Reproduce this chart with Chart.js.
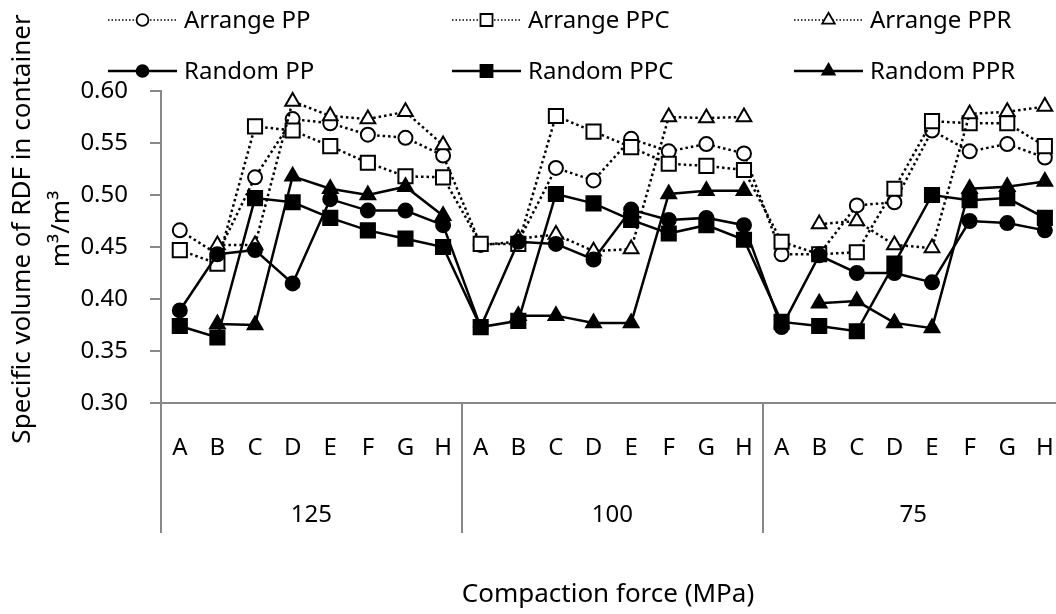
<!DOCTYPE html>
<html>
<head>
<meta charset="utf-8">
<script src="https://cdn.jsdelivr.net/npm/chart.js@4"></script>
<style>
  html, body { margin: 0; padding: 0; background: #fff; overflow: hidden; }
  #wrap { position: absolute; left: 0; top: 0; width: 1085px; height: 614px; }
</style>
</head>
<body>
<div id="wrap"><canvas id="volChart"></canvas></div>
<script>
// compaction force groups (MPa) and sample codes inside each group
const forces = ["125", "100", "75"];
const samples = ["A", "B", "C", "D", "E", "F", "G", "H"];
const labels = forces.flatMap(() => samples);

const yTicks = [0.30, 0.35, 0.40, 0.45, 0.50, 0.55, 0.60];

// specific volume, m3/m3 (125 | 100 | 75)
const arrangePP = [
  0.466, 0.443, 0.517, 0.573, 0.569, 0.558, 0.555, 0.538,
  0.452, 0.455, 0.526, 0.514, 0.554, 0.542, 0.549, 0.540,
  0.443, 0.443, 0.490, 0.493, 0.562, 0.542, 0.549, 0.536
];
const arrangePPC = [
  0.447, 0.434, 0.566, 0.562, 0.547, 0.531, 0.518, 0.517,
  0.453, 0.453, 0.576, 0.561, 0.546, 0.530, 0.528, 0.524,
  0.455, 0.443, 0.445, 0.506, 0.571, 0.569, 0.569, 0.547
];
const arrangePPR = [
  null, 0.452, 0.452, 0.590, 0.576, 0.573, 0.580, 0.548,
  null, 0.458, 0.462, 0.446, 0.448, 0.575, 0.574, 0.575,
  null, 0.472, 0.475, 0.452, 0.449, 0.578, 0.580, 0.585
];
const randomPP = [
  0.389, 0.443, 0.447, 0.415, 0.496, 0.485, 0.485, 0.471,
  0.373, 0.455, 0.453, 0.438, 0.486, 0.476, 0.478, 0.471,
  0.373, 0.442, 0.425, 0.425, 0.416, 0.475, 0.473, 0.466
];
const randomPPC = [
  0.374, 0.363, 0.497, 0.493, 0.478, 0.466, 0.458, 0.450,
  0.373, 0.379, 0.501, 0.492, 0.476, 0.463, 0.471, 0.457,
  0.378, 0.374, 0.369, 0.434, 0.500, 0.495, 0.497, 0.478
];
const randomPPR = [
  null, 0.376, 0.375, 0.518, 0.506, 0.500, 0.508, 0.480,
  null, 0.384, 0.384, 0.377, 0.377, 0.501, 0.504, 0.504,
  null, 0.396, 0.398, 0.377, 0.372, 0.506, 0.508, 0.513
];

const FONT = "'Noto Sans', sans-serif";
const FONT_SIZE = 24;
const TITLE_SIZE = 26;
const GRAY = "#888888";
const radii = { circle: 7, rect: 10, triangle: 8.5 };

function series(label, data, style, dotted) {
  return {
    label,
    data,
    pointStyle: style,
    pointRadius: radii[style],
    pointHoverRadius: radii[style],
    pointBorderWidth: 2,
    pointBackgroundColor: dotted ? "#fff" : "#000",
    pointBorderColor: "#000",
    borderColor: "#000",
    borderWidth: 2.5,
    borderDash: dotted ? [2.5, 3] : [],
    tension: 0,
    fill: false,
    spanGaps: false,
  };
}

const datasets = [
  series("Arrange PP", arrangePP, "circle", true),
  series("Arrange PPC", arrangePPC, "rect", true),
  series("Arrange PPR", arrangePPR, "triangle", true),
  series("Random PP", randomPP, "circle", false),
  series("Random PPC", randomPPC, "rect", false),
  series("Random PPR", randomPPR, "triangle", false),
];
// later series painted over earlier ones
datasets.forEach((d, i) => { d.order = datasets.length - i; });

// legend, axis titles, force groups and divider lines
const decor = {
  id: "decor",
  afterDraw(chart) {
    const { ctx, chartArea: a } = chart;
    const x = chart.scales.x;
    ctx.save();

    // group dividers under the axis
    ctx.strokeStyle = GRAY;
    ctx.lineWidth = 2;
    for (let g = 0; g <= forces.length; g++) {
      const px = Math.round(x.getPixelForValue(g * samples.length - 0.5));
      ctx.beginPath();
      ctx.moveTo(px, a.bottom);
      ctx.lineTo(px, a.bottom + 130);
      ctx.stroke();
    }

    ctx.fillStyle = "#000";
    ctx.font = FONT_SIZE + "px " + FONT;
    ctx.textAlign = "center";
    ctx.textBaseline = "middle";
    forces.forEach((f, g) => {
      const px = x.getPixelForValue(g * samples.length + (samples.length - 1) / 2);
      ctx.fillText(f, px, 515);
    });

    ctx.font = TITLE_SIZE + "px " + FONT;
    ctx.fillText("Compaction force (MPa)", 608, 595);

    // y-axis title, two lines
    ctx.save();
    ctx.translate(23, 229);
    ctx.rotate(-Math.PI / 2);
    ctx.fillText("Specific volume of RDF in container", 0, 0);
    ctx.restore();
    ctx.save();
    ctx.translate(62, 229);
    ctx.rotate(-Math.PI / 2);
    ctx.fillText("m³/m³", 0, 0);
    ctx.restore();

    // legend: three columns, two rows
    ctx.font = FONT_SIZE + "px " + FONT;
    const colX = [184, 528, 870];
    const rowY = [20, 71];
    chart.data.datasets.forEach((d, i) => {
      const tx = colX[i % 3];
      const ty = rowY[Math.floor(i / 3)];
      ctx.strokeStyle = "#000";
      ctx.lineWidth = d.borderDash.length ? 1.5 : 2.5;
      ctx.setLineDash(d.borderDash.length ? [1.5, 2] : []);
      ctx.beginPath();
      ctx.moveTo(tx - 76, ty);
      ctx.lineTo(tx - 7, ty);
      ctx.stroke();
      ctx.setLineDash([]);
      ctx.fillStyle = d.pointBackgroundColor;
      ctx.strokeStyle = "#000";
      ctx.lineWidth = 1.8;
      Chart.helpers.drawPoint(ctx, {
        pointStyle: d.pointStyle,
        radius: d.pointRadius * 0.85,
        rotation: 0,
        borderWidth: 1.8,
      }, tx - 41.5, ty);
      ctx.fillStyle = "#000";
      ctx.textAlign = "left";
      ctx.fillText(d.label, tx, ty + 1);
    });

    ctx.restore();
  },
};

const ctx = document.getElementById("volChart").getContext("2d");
new Chart(ctx, {
  type: "line",
  data: { labels, datasets },
  options: {
    responsive: true,
    maintainAspectRatio: false,
    animation: false,
    layout: { padding: { top: 91, right: 0, bottom: 0, left: 0 } },
    scales: {
      x: {
        type: "category",
        offset: true,
        grid: { display: false, drawTicks: false },
        border: { display: true, color: GRAY, width: 2 },
        ticks: {
          autoSkip: false,
          maxRotation: 0,
          padding: 31,
          color: "#000",
          font: { family: FONT, size: FONT_SIZE },
        },
        afterFit(scale) { scale.height = 211; },
      },
      y: {
        min: 0.3,
        max: 0.6,
        afterBuildTicks(scale) {
          scale.ticks = yTicks.map(v => ({ value: v }));
        },
        grid: {
          drawOnChartArea: false,
          drawTicks: true,
          tickLength: 11,
          color: GRAY,
          lineWidth: 2,
        },
        border: { display: true, color: GRAY, width: 2 },
        ticks: {
          padding: 22,
          color: "#000",
          font: { family: FONT, size: FONT_SIZE },
          callback: v => Number(v).toFixed(2),
        },
        afterFit(scale) { scale.width = 161; },
      },
    },
    plugins: {
      legend: { display: false },
      tooltip: { enabled: false },
    },
  },
  plugins: [decor],
});
</script>
</body>
</html>
